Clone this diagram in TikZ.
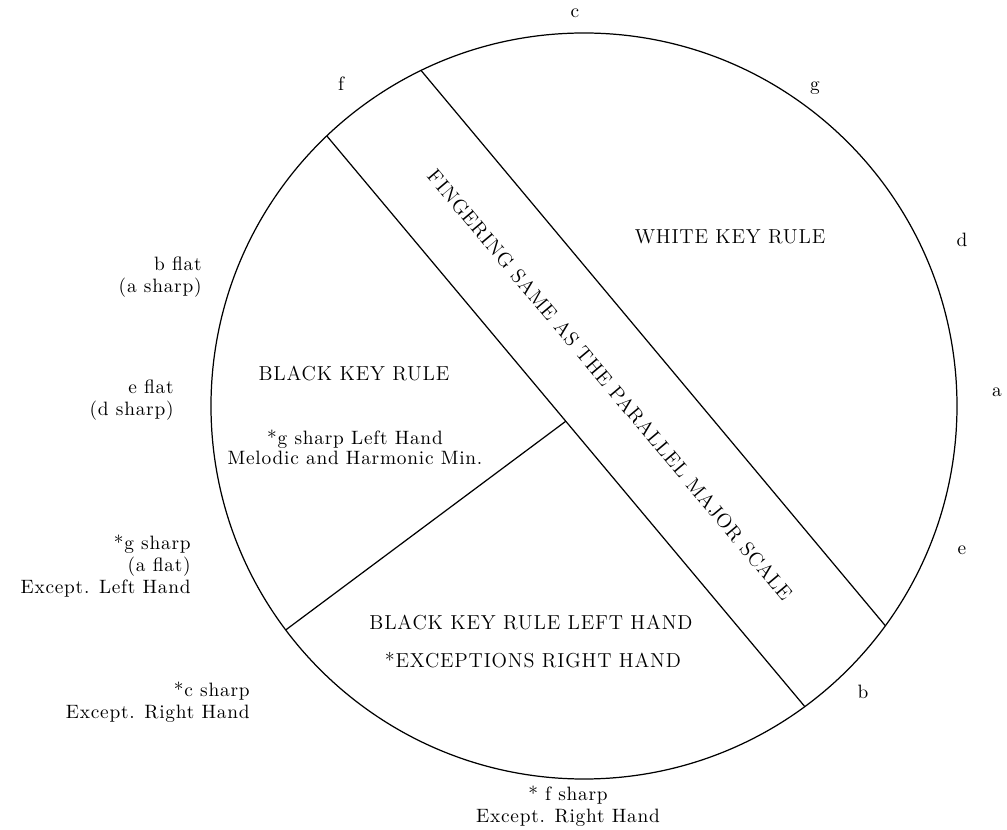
\documentclass[tikz,border=0pt]{standalone}
\usepackage{fontspec}
\setmainfont{Latin Modern Roman}[LetterSpace=4]
\usepackage{tikz}
\usetikzlibrary{positioning,calc}

\begin{document}
\begin{tikzpicture}[
line width=0.7pt,
every node/.style={font=\fontsize{11}{12.5}\selectfont, inner sep=1pt},
key/.style={},
note/.style={anchor=east, align=right},
rule/.style={align=center, font=\fontsize{11.5}{13}\selectfont}
]
\useasboundingbox (-11.68,-8.48) rectangle (8.46,8.12);
\coordinate (o) at (0,0);
\draw (o) circle (7.46);
% band across the circle
\coordinate (a1) at (115.9:7.46);
\coordinate (a2) at (-36.1:7.46);
\coordinate (b1) at (133.6:7.46);
\coordinate (b2) at (-53.7:7.46);
\coordinate (d1) at (216.9:7.46);
\coordinate (d2) at ($(b1)!0.5!(b2)$);
\draw (a1) -- (a2);
\draw (b1) -- (b2);
\draw (d1) -- (d2);
% keys round the circle
\node[key] (kc) at (-0.18,7.86) {c};
\node[key] (kg) at (4.62,6.36) {g};
\node[key] (kd) at (7.56,3.32) {d};
\node[key] (ka) at (8.26,0.28) {a};
\node[key] (ke) at (7.56,-2.88) {e};
\node[key] (kb) at (5.58,-5.72) {b};
\node[key] (kf) at (-4.86,6.44) {f};
\node[note] (kbflat) at (-7.6,2.58) {b flat\\(a sharp)};
\node[note] (keflat) at (-8.16,0.12) {e flat\\(d sharp)};
\node[note] (kgsharp) at (-7.82,-3.2) {*g sharp\\(a flat)\\Except. Left Hand};
\node[note] (kcsharp) at (-6.64,-5.92) {*c sharp\\Except. Right Hand};
\node[align=center] (kfsharp) at (-0.32,-8.0) {* f sharp\\Except. Right Hand};
% rules inside
\node[rule] (white) at (2.92,3.38) {WHITE KEY RULE};
\node[rule] (black) at (-4.6,0.64) {BLACK KEY RULE};
\node[align=center, font=\fontsize{11}{11.5}\selectfont] (gleft) at (-4.58,-0.82) {*g sharp Left Hand\\Melodic and Harmonic Min.};
\node[rule] (blackleft) at (-1.06,-4.32) {BLACK KEY RULE LEFT HAND};
\node[rule] (except) at (-1.02,-5.08) {*EXCEPTIONS RIGHT HAND};
\node[rule, rotate=-50] (same) at (0.52,0.42) {FINGERING SAME AS THE PARALLEL MAJOR SCALE};
\end{tikzpicture}
\end{document}
